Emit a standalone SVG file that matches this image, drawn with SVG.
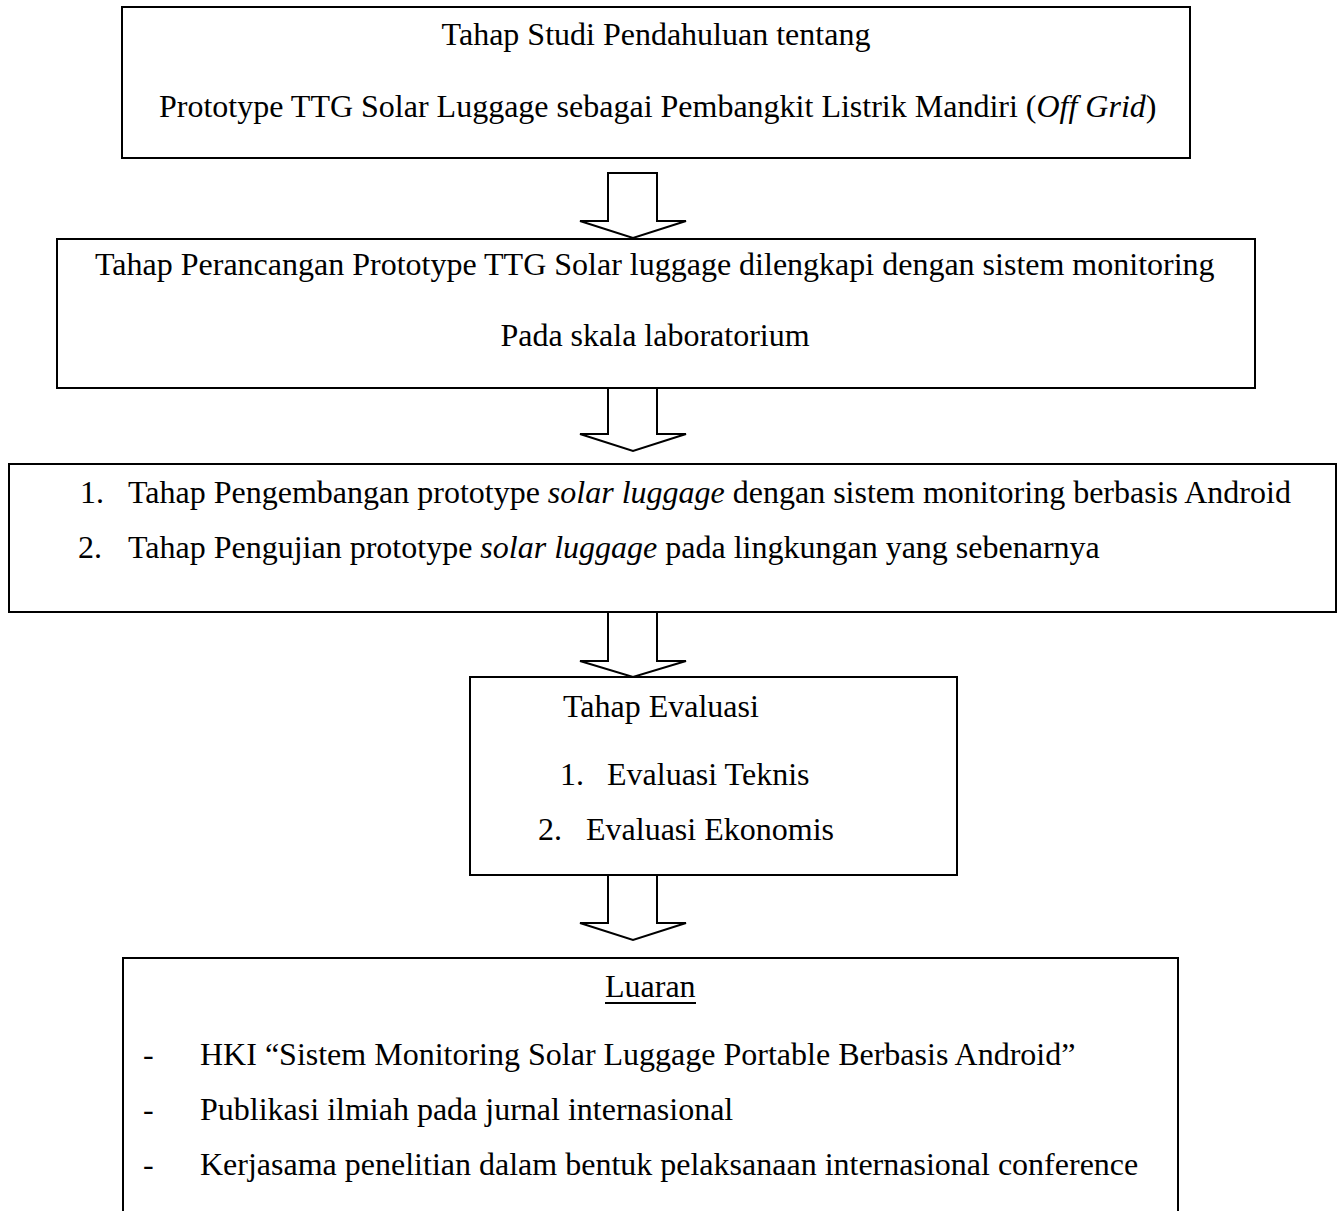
<svg xmlns="http://www.w3.org/2000/svg" width="1342" height="1211" viewBox="0 0 1342 1211">
  <style>
    .box { fill: #ffffff; stroke: #000000; stroke-width: 2; }
    .arrow { fill: #ffffff; stroke: #000000; stroke-width: 2; stroke-linejoin: miter; }
    text { font-family: "Liberation Serif", "Times New Roman", serif; font-size: 32px; fill: #000000; }
    .it { font-style: italic; }
    .mid { text-anchor: middle; }
  </style>
  <rect width="1342" height="1211" fill="#ffffff"/>

  <!-- block arrows between stages -->
  <g id="connectors">
    <polygon class="arrow" points="608,173 657,173 657,221 686,221 633,238 580,221 608,221"/>
    <polygon class="arrow" points="608,388 657,388 657,434 686,434 633,451 580,434 608,434"/>
    <polygon class="arrow" points="608,612 657,612 657,661 686,661 633,677 580,661 608,661"/>
    <polygon class="arrow" points="608,875 657,875 657,923 686,923 633,940 580,923 608,923"/>
  </g>

  <g id="studi-pendahuluan">
    <rect class="box" x="122" y="7" width="1068" height="151"/>
    <text class="mid" x="656" y="45">Tahap Studi Pendahuluan tentang</text>
    <text x="159" y="117">Prototype TTG Solar Luggage sebagai Pembangkit Listrik Mandiri (<tspan class="it">Off Grid</tspan>)</text>
  </g>

  <g id="perancangan">
    <rect class="box" x="57" y="239" width="1198" height="149"/>
    <text x="95" y="275">Tahap Perancangan Prototype TTG Solar luggage dilengkapi dengan sistem monitoring</text>
    <text class="mid" x="655" y="346">Pada skala laboratorium</text>
  </g>

  <g id="pengembangan-pengujian">
    <rect class="box" x="9" y="464" width="1327" height="148"/>
    <text x="80" y="503">1.</text>
    <text x="128" y="503">Tahap Pengembangan prototype <tspan class="it">solar luggage</tspan> dengan sistem monitoring berbasis Android</text>
    <text x="78" y="558">2.</text>
    <text x="128" y="558">Tahap Pengujian prototype <tspan class="it">solar luggage</tspan> pada lingkungan yang sebenarnya</text>
  </g>

  <g id="evaluasi">
    <rect class="box" x="470" y="677" width="487" height="198"/>
    <text x="563" y="717">Tahap Evaluasi</text>
    <text x="560" y="785">1.</text>
    <text x="607" y="785">Evaluasi Teknis</text>
    <text x="538" y="840">2.</text>
    <text x="586" y="840">Evaluasi Ekonomis</text>
  </g>

  <g id="luaran">
    <rect class="box" x="123" y="958" width="1055" height="300"/>
    <text x="605" y="997">Luaran</text>
    <line x1="605" y1="1003" x2="696" y2="1003" stroke="#000000" stroke-width="2"/>
    <text x="143" y="1065">-</text>
    <text x="200" y="1065">HKI “Sistem Monitoring Solar Luggage Portable Berbasis Android”</text>
    <text x="143" y="1120">-</text>
    <text x="200" y="1120">Publikasi ilmiah pada jurnal internasional</text>
    <text x="143" y="1175">-</text>
    <text x="200" y="1175">Kerjasama penelitian dalam bentuk pelaksanaan internasional conference</text>
  </g>
</svg>
